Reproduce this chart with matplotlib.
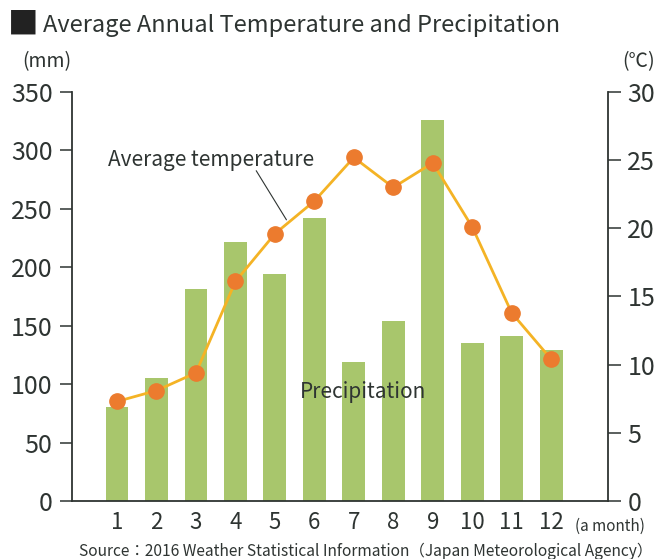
import matplotlib.pyplot as plt
import numpy as np

plt.rcParams["font.family"] = ["Noto Sans CJK JP", "DejaVu Sans"]

months = [1, 2, 3, 4, 5, 6, 7, 8, 9, 10, 11, 12]
precipitation = [80, 105, 181, 222, 194, 242, 119, 154, 326, 135, 141, 129]
temperature = [7.3, 8.1, 9.4, 16.1, 19.6, 22.0, 25.2, 23.0, 24.8, 20.1, 13.8, 10.4]
mm_ticks = [0, 50, 100, 150, 200, 250, 300, 350]
deg_ticks = [0, 5, 10, 15, 20, 25, 30]

text_color = "#2e3432"
bar_color = "#a8c66c"
line_color = "#f4b325"
dot_color = "#ec7b2e"

fig = plt.figure(figsize=(6.62, 5.59), dpi=100)
ax = fig.add_axes([0.1088, 0.1038, 0.8096, 0.7316])
ax2 = ax.twinx()

ax.bar(months, precipitation, width=0.58, color=bar_color, zorder=1)
ax.set_ylim(0, 350)
ax.set_xlim(-0.14, 13.44)
ax.set_yticks(mm_ticks)
ax.set_xticks(months)

ax2.plot(months, temperature, color=line_color, linewidth=2, zorder=3)
ax2.plot(months, temperature, "o", color=dot_color, markersize=11, zorder=4)
ax2.set_ylim(0, 30)
ax2.set_yticks(deg_ticks)

for a in (ax, ax2):
	a.spines["top"].set_visible(False)
	for s in a.spines.values():
		s.set_color(text_color)
		s.set_linewidth(1.3)
	a.tick_params(axis="y", length=9, width=1.1, colors=text_color, labelsize=18, pad=5)
ax.spines["right"].set_visible(False)
ax2.spines["left"].set_visible(False)
ax2.spines["bottom"].set_visible(False)
ax.tick_params(axis="x", length=0, labelsize=16, colors=text_color, pad=7)

# labels inside the chart
ax.text(7.23, 93, "Precipitation", fontsize=15, color=text_color, ha="center", va="center")
ax2.text(3.38, 25.0, "Average temperature", fontsize=15, color=text_color, ha="center", va="center")
ax2.annotate("", xy=(5.33, 20.45), xytext=(4.49, 24.4),
	arrowprops=dict(arrowstyle="-", color=text_color, linewidth=0.8))

fig.text(0.012, 0.955, "■", fontsize=22, color="#222222", va="center")
fig.text(0.065, 0.955, "Average Annual Temperature and Precipitation", fontsize=17,
	color=text_color, va="center")
fig.text(0.033, 0.889, "(mm)", fontsize=14, color=text_color, va="center")
fig.text(0.94, 0.889, "(℃)", fontsize=14, color=text_color, va="center")
fig.text(0.869, 0.058, "(a month)", fontsize=11, color=text_color, va="center")
fig.text(0.985, 0.014, "Source：2016 Weather Statistical Information（Japan Meteorological Agency）",
	fontsize=11.2, color=text_color, ha="right", va="center")

fig.savefig("out.png", dpi=100)
